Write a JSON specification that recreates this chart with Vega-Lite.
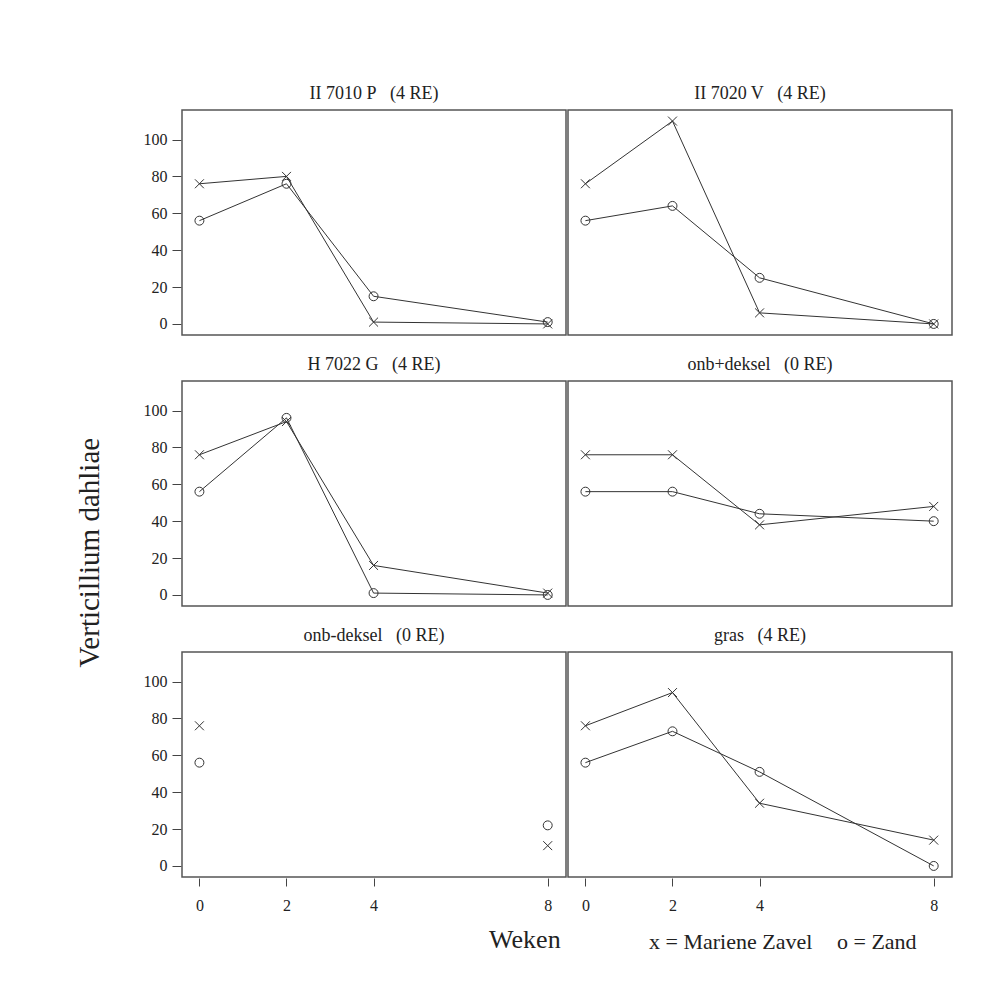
{
  "$schema": "https://vega.github.io/schema/vega-lite/v6.json",
  "background": "white",
  "padding": {"left": 75, "top": 84, "right": 10, "bottom": 10},
  "datasets": {
    "obs": [
      {"panel": "II 7010 P\u00a0\u00a0 (4 RE)", "week": 0, "soil": "Mariene Zavel", "value": 76},
      {"panel": "II 7010 P\u00a0\u00a0 (4 RE)", "week": 2, "soil": "Mariene Zavel", "value": 80},
      {"panel": "II 7010 P\u00a0\u00a0 (4 RE)", "week": 4, "soil": "Mariene Zavel", "value": 1},
      {"panel": "II 7010 P\u00a0\u00a0 (4 RE)", "week": 8, "soil": "Mariene Zavel", "value": 0},
      {"panel": "II 7010 P\u00a0\u00a0 (4 RE)", "week": 0, "soil": "Zand", "value": 56},
      {"panel": "II 7010 P\u00a0\u00a0 (4 RE)", "week": 2, "soil": "Zand", "value": 76},
      {"panel": "II 7010 P\u00a0\u00a0 (4 RE)", "week": 4, "soil": "Zand", "value": 15},
      {"panel": "II 7010 P\u00a0\u00a0 (4 RE)", "week": 8, "soil": "Zand", "value": 1},
      {"panel": "II 7020 V\u00a0\u00a0 (4 RE)", "week": 0, "soil": "Mariene Zavel", "value": 76},
      {"panel": "II 7020 V\u00a0\u00a0 (4 RE)", "week": 2, "soil": "Mariene Zavel", "value": 110},
      {"panel": "II 7020 V\u00a0\u00a0 (4 RE)", "week": 4, "soil": "Mariene Zavel", "value": 6},
      {"panel": "II 7020 V\u00a0\u00a0 (4 RE)", "week": 8, "soil": "Mariene Zavel", "value": 0},
      {"panel": "II 7020 V\u00a0\u00a0 (4 RE)", "week": 0, "soil": "Zand", "value": 56},
      {"panel": "II 7020 V\u00a0\u00a0 (4 RE)", "week": 2, "soil": "Zand", "value": 64},
      {"panel": "II 7020 V\u00a0\u00a0 (4 RE)", "week": 4, "soil": "Zand", "value": 25},
      {"panel": "II 7020 V\u00a0\u00a0 (4 RE)", "week": 8, "soil": "Zand", "value": 0},
      {"panel": "H 7022 G\u00a0\u00a0 (4 RE)", "week": 0, "soil": "Mariene Zavel", "value": 76},
      {"panel": "H 7022 G\u00a0\u00a0 (4 RE)", "week": 2, "soil": "Mariene Zavel", "value": 94},
      {"panel": "H 7022 G\u00a0\u00a0 (4 RE)", "week": 4, "soil": "Mariene Zavel", "value": 16},
      {"panel": "H 7022 G\u00a0\u00a0 (4 RE)", "week": 8, "soil": "Mariene Zavel", "value": 1},
      {"panel": "H 7022 G\u00a0\u00a0 (4 RE)", "week": 0, "soil": "Zand", "value": 56},
      {"panel": "H 7022 G\u00a0\u00a0 (4 RE)", "week": 2, "soil": "Zand", "value": 96},
      {"panel": "H 7022 G\u00a0\u00a0 (4 RE)", "week": 4, "soil": "Zand", "value": 1},
      {"panel": "H 7022 G\u00a0\u00a0 (4 RE)", "week": 8, "soil": "Zand", "value": 0},
      {"panel": "onb+deksel\u00a0\u00a0 (0 RE)", "week": 0, "soil": "Mariene Zavel", "value": 76},
      {"panel": "onb+deksel\u00a0\u00a0 (0 RE)", "week": 2, "soil": "Mariene Zavel", "value": 76},
      {"panel": "onb+deksel\u00a0\u00a0 (0 RE)", "week": 4, "soil": "Mariene Zavel", "value": 38},
      {"panel": "onb+deksel\u00a0\u00a0 (0 RE)", "week": 8, "soil": "Mariene Zavel", "value": 48},
      {"panel": "onb+deksel\u00a0\u00a0 (0 RE)", "week": 0, "soil": "Zand", "value": 56},
      {"panel": "onb+deksel\u00a0\u00a0 (0 RE)", "week": 2, "soil": "Zand", "value": 56},
      {"panel": "onb+deksel\u00a0\u00a0 (0 RE)", "week": 4, "soil": "Zand", "value": 44},
      {"panel": "onb+deksel\u00a0\u00a0 (0 RE)", "week": 8, "soil": "Zand", "value": 40},
      {"panel": "onb-deksel\u00a0\u00a0 (0 RE)", "week": 0, "soil": "Mariene Zavel", "value": 76},
      {"panel": "onb-deksel\u00a0\u00a0 (0 RE)", "week": 8, "soil": "Mariene Zavel", "value": 11},
      {"panel": "onb-deksel\u00a0\u00a0 (0 RE)", "week": 0, "soil": "Zand", "value": 56},
      {"panel": "onb-deksel\u00a0\u00a0 (0 RE)", "week": 8, "soil": "Zand", "value": 22},
      {"panel": "gras\u00a0\u00a0 (4 RE)", "week": 0, "soil": "Mariene Zavel", "value": 76},
      {"panel": "gras\u00a0\u00a0 (4 RE)", "week": 2, "soil": "Mariene Zavel", "value": 94},
      {"panel": "gras\u00a0\u00a0 (4 RE)", "week": 4, "soil": "Mariene Zavel", "value": 34},
      {"panel": "gras\u00a0\u00a0 (4 RE)", "week": 8, "soil": "Mariene Zavel", "value": 14},
      {"panel": "gras\u00a0\u00a0 (4 RE)", "week": 0, "soil": "Zand", "value": 56},
      {"panel": "gras\u00a0\u00a0 (4 RE)", "week": 2, "soil": "Zand", "value": 73},
      {"panel": "gras\u00a0\u00a0 (4 RE)", "week": 4, "soil": "Zand", "value": 51},
      {"panel": "gras\u00a0\u00a0 (4 RE)", "week": 8, "soil": "Zand", "value": 0}
    ]
  },
  "title": {
    "text": "Verticillium dahliae",
    "orient": "left",
    "anchor": "middle",
    "font": "Liberation Serif",
    "fontSize": 29,
    "fontWeight": "normal",
    "color": "#222",
    "offset": 38,
    "dx": -34
  },
  "vconcat": [
    {
      "data": {"name": "obs"},
      "title": {
        "text": "Weken",
        "orient": "bottom",
        "anchor": "middle",
        "font": "Liberation Serif",
        "fontSize": 26,
        "fontWeight": "normal",
        "color": "#222",
        "offset": 14,
        "dx": -23
      },
      "facet": {
        "field": "panel",
        "type": "nominal",
        "sort": [
          "II 7010 P\u00a0\u00a0 (4 RE)",
          "II 7020 V\u00a0\u00a0 (4 RE)",
          "H 7022 G\u00a0\u00a0 (4 RE)",
          "onb+deksel\u00a0\u00a0 (0 RE)",
          "onb-deksel\u00a0\u00a0 (0 RE)",
          "gras\u00a0\u00a0 (4 RE)"
        ],
        "header": {
          "title": null,
          "labelFont": "Liberation Serif",
          "labelFontSize": 18,
          "labelColor": "#222",
          "labelPadding": 7
        }
      },
      "columns": 2,
      "spacing": {"column": 0, "row": 19},
      "spec": {
        "width": 384,
        "height": 225,
        "encoding": {
          "x": {
            "field": "week",
            "type": "quantitative",
            "scale": {"domain": [-0.4, 8.42], "nice": false, "zero": false},
            "axis": {"values": [0, 2, 4, 8], "title": null, "tickSize": 8, "labelPadding": 11}
          },
          "y": {
            "field": "value",
            "type": "quantitative",
            "scale": {"domain": [-6, 116], "nice": false, "zero": false},
            "axis": {"values": [0, 20, 40, 60, 80, 100], "title": null, "tickSize": 9, "labelPadding": 5}
          }
        },
        "layer": [
          {
            "transform": [{"filter": "!test(/onb-deksel/, datum.panel)"}],
            "mark": {"type": "line", "color": "#333", "strokeWidth": 1},
            "encoding": {"detail": {"field": "soil", "type": "nominal"}}
          },
          {
            "mark": {"type": "point", "filled": false, "color": "#333", "strokeWidth": 1, "size": 80, "opacity": 1},
            "encoding": {
              "shape": {
                "field": "soil",
                "type": "nominal",
                "scale": {"domain": ["Mariene Zavel", "Zand"], "range": ["M-1,-1L1,1M-1,1L1,-1", "circle"]},
                "legend": {
                  "orient": "none",
                  "legendX": 445,
                  "legendY": 821,
                  "direction": "horizontal",
                  "title": null,
                  "symbolSize": 0,
                  "symbolOpacity": 0,
                  "symbolStrokeWidth": 0,
                  "labelOffset": 0,
                  "labelLimit": 400,
                  "columnPadding": 2,
                  "labelFont": "Liberation Serif",
                  "labelFontSize": 22,
                  "labelColor": "#222",
                  "labelExpr": "datum.label == 'Zand' ? 'o = Zand' : 'x = Mariene Zavel'"
                }
              }
            }
          }
        ]
      }
    }
  ],
  "config": {
    "font": "Liberation Serif",
    "view": {"stroke": "#555", "strokeWidth": 1.5},
    "axis": {
      "labelFont": "Liberation Serif",
      "labelFontSize": 16,
      "labelColor": "#222",
      "tickColor": "#444",
      "domain": false,
      "grid": false
    }
  }
}
